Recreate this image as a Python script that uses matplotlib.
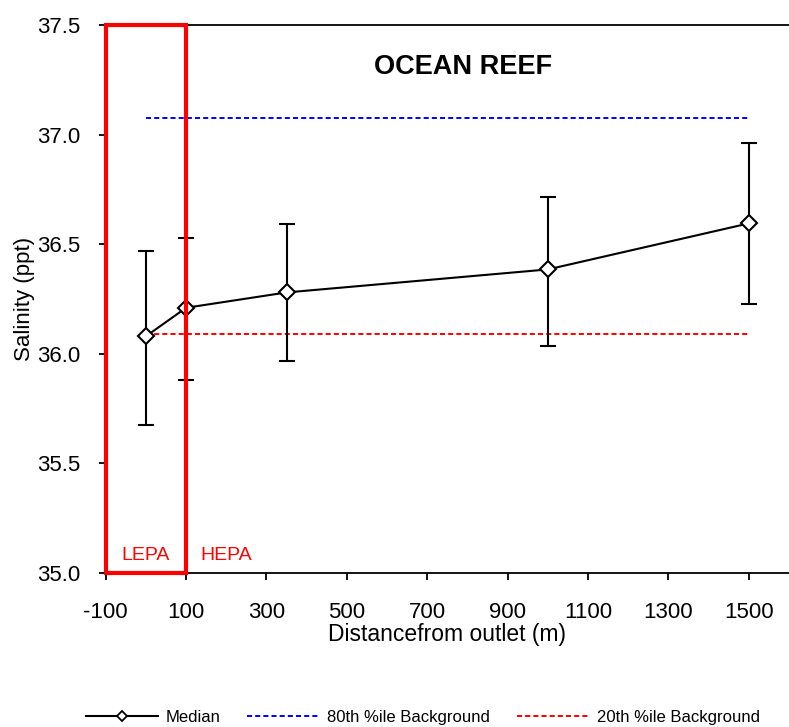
import matplotlib.pyplot as plt
from matplotlib.patches import Rectangle
from matplotlib.lines import Line2D

plt.rcParams['font.family'] = ['Liberation Sans', 'DejaVu Sans']
plt.rcParams['axes.unicode_minus'] = False

# distance from outlet (m) and salinity (ppt)
distance = [0, 100, 350, 1000, 1500]
median = [36.08, 36.21, 36.28, 36.385, 36.595]
err_low = [35.675, 35.88, 35.965, 36.035, 36.225]
err_high = [36.47, 36.53, 36.59, 36.715, 36.96]

bg_x = [0, 1500]
bg_80th = 37.075
bg_20th = 36.09

lepa_range = [-100, 100]

fig = plt.figure(figsize=(7.89, 7.27), dpi=100)
ax = fig.add_axes([0.134, 0.2118, 0.866, 0.7538])

yerr = [[m - lo for m, lo in zip(median, err_low)],
        [hi - m for m, hi in zip(median, err_high)]]

dash = (0, (2.6, 1.6))

ax.errorbar(distance, median, yerr=yerr, color='black', lw=1.5, capsize=6,
            capthick=1.5, marker='D', markersize=8, markerfacecolor='white',
            markeredgecolor='black', markeredgewidth=1.5, zorder=4)
ax.plot(bg_x, [bg_80th] * 2, color='blue', ls=dash, lw=1.4)
ax.plot(bg_x, [bg_20th] * 2, color='red', ls=dash, lw=1.4)

rect = Rectangle((lepa_range[0], 35.0), lepa_range[1] - lepa_range[0], 2.5,
                 fill=False, edgecolor='red', lw=3, zorder=5, clip_on=False)
ax.add_patch(rect)

ax.text(0, 35.08, 'LEPA', color='red', fontsize=14, ha='center', va='center')
ax.text(200, 35.08, 'HEPA', color='red', fontsize=14, ha='center', va='center')
ax.text(788, 37.31, 'OCEAN REEF', fontsize=19.5, fontweight='bold', ha='center', va='center')

ax.set_xlim(-100, 1600)
ax.set_ylim(35.0, 37.5)
ax.set_xticks(range(-100, 1600, 200))
ax.set_yticks([35.0, 35.5, 36.0, 36.5, 37.0, 37.5])
ax.set_yticklabels(['35.0', '35.5', '36.0', '36.5', '37.0', '37.5'])
ax.tick_params(direction='out', length=5, width=1.3, labelsize=16)
ax.tick_params(axis='x', pad=16)
ax.tick_params(axis='y', pad=13)
ax.spines['right'].set_visible(False)
for s in ['top', 'bottom', 'left']:
    ax.spines[s].set_linewidth(1.3)

ax.set_xlabel('Distancefrom outlet (m)', fontsize=16.5, labelpad=0)
ax.set_ylabel('Salinity (ppt)', fontsize=16, labelpad=1.5)

handles = [
    Line2D([], [], color='black', lw=1.5, marker='D', markersize=5,
           markerfacecolor='white', markeredgewidth=1.3),
    Line2D([], [], color='blue', ls=dash, lw=1.4),
    Line2D([], [], color='red', ls=dash, lw=1.4),
]
labels = ['Median', '80th %ile Background', '20th %ile Background']
fig.legend(handles, labels, loc='center', bbox_to_anchor=(0.536, 0.013), ncol=3,
           frameon=False, fontsize=12, handlelength=4.3, handletextpad=0.5,
           columnspacing=1.6, borderpad=0)

fig.savefig('out.png', dpi=100)
